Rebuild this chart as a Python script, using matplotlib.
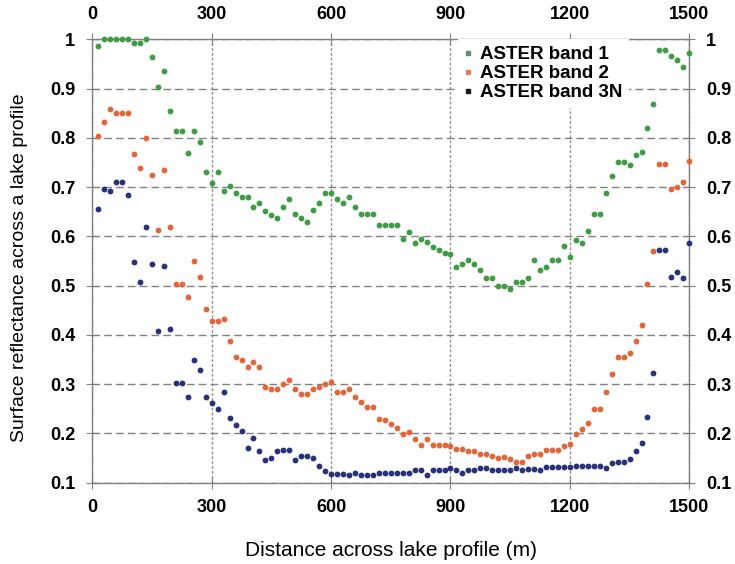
import matplotlib
matplotlib.use('Agg')
import matplotlib.pyplot as plt
from matplotlib.lines import Line2D

plt.rcParams['font.family'] = ['Liberation Sans', 'DejaVu Sans']
plt.rcParams['font.weight'] = 'bold'

# ASTER pixels every 15 m along the profile
distance = list(range(15, 1501, 15))

band1 = [0.987, 1.0, 1.0, 1.0, 1.0, 1.0, 0.992, 0.992, 1.0, 0.965,
         0.903, 0.936, 0.854, 0.814, 0.814, 0.770, 0.814, 0.792, 0.730, 0.708,
         0.730, 0.693, 0.703, 0.688, 0.681, 0.681, 0.659, 0.668, 0.651, 0.644,
         0.637, 0.659, 0.675, 0.646, 0.637, 0.630, 0.653, 0.668, 0.688, 0.688,
         0.675, 0.668, 0.681, 0.659, 0.646, 0.646, 0.646, 0.624, 0.624, 0.624,
         0.624, 0.594, 0.609, 0.586, 0.595, 0.588, 0.579, 0.573, 0.567, 0.565,
         0.537, 0.544, 0.551, 0.544, 0.531, 0.516, 0.516, 0.500, 0.500, 0.493,
         0.508, 0.508, 0.516, 0.551, 0.531, 0.537, 0.551, 0.551, 0.580, 0.558,
         0.593, 0.587, 0.610, 0.645, 0.645, 0.688, 0.723, 0.751, 0.751, 0.744,
         0.765, 0.771, 0.820, 0.869, 0.979, 0.979, 0.966, 0.958, 0.945, 0.973]

band2 = [0.803, 0.832, 0.859, 0.851, 0.851, 0.851, 0.767, 0.739, 0.799, 0.725,
         0.613, 0.734, 0.619, 0.503, 0.503, 0.476, 0.549, 0.517, 0.453, 0.428,
         0.428, 0.433, 0.388, 0.355, 0.349, 0.335, 0.344, 0.335, 0.294, 0.290,
         0.290, 0.300, 0.309, 0.290, 0.279, 0.279, 0.290, 0.294, 0.300, 0.304,
         0.284, 0.284, 0.290, 0.274, 0.264, 0.254, 0.254, 0.230, 0.226, 0.218,
         0.211, 0.199, 0.203, 0.188, 0.177, 0.188, 0.177, 0.177, 0.177, 0.174,
         0.169, 0.169, 0.164, 0.164, 0.158, 0.158, 0.154, 0.149, 0.152, 0.147,
         0.142, 0.142, 0.154, 0.158, 0.158, 0.167, 0.167, 0.167, 0.174, 0.179,
         0.199, 0.209, 0.220, 0.249, 0.249, 0.284, 0.320, 0.354, 0.354, 0.364,
         0.388, 0.419, 0.503, 0.571, 0.748, 0.748, 0.696, 0.700, 0.710, 0.753]

band3n = [0.656, 0.697, 0.693, 0.710, 0.710, 0.685, 0.547, 0.507, 0.619, 0.544,
          0.408, 0.539, 0.412, 0.303, 0.303, 0.274, 0.349, 0.328, 0.274, 0.262,
          0.249, 0.283, 0.232, 0.216, 0.205, 0.171, 0.191, 0.163, 0.145, 0.149,
          0.163, 0.167, 0.167, 0.145, 0.154, 0.154, 0.149, 0.133, 0.123, 0.118,
          0.118, 0.118, 0.116, 0.120, 0.116, 0.116, 0.116, 0.120, 0.120, 0.120,
          0.120, 0.120, 0.120, 0.125, 0.125, 0.115, 0.125, 0.125, 0.125, 0.130,
          0.125, 0.120, 0.125, 0.125, 0.130, 0.130, 0.125, 0.125, 0.125, 0.125,
          0.130, 0.125, 0.127, 0.128, 0.125, 0.131, 0.131, 0.131, 0.131, 0.131,
          0.133, 0.133, 0.133, 0.133, 0.133, 0.130, 0.139, 0.142, 0.142, 0.147,
          0.164, 0.180, 0.233, 0.323, 0.573, 0.573, 0.518, 0.528, 0.515, 0.586]

labels = ['ASTER band 1', 'ASTER band 2', 'ASTER band 3N']
colors = ['#3f9b45', '#e0663c', '#28327c']
legend_colors = ['#5f8f6f', '#e08060', '#1a1a1a']

fig = plt.figure(figsize=(7.35, 5.64), dpi=100)
ax = fig.add_axes([0.1256, 0.1445, 0.8122, 0.7855])

for values, color in zip([band1, band2, band3n], colors):
    ax.plot(distance, values, 'o', color=color, markersize=4.2,
            markeredgewidth=0, clip_on=False, zorder=3)

ax.set_xlim(0, 1500)
ax.set_ylim(0.1, 1.0)
ax.set_xticks([0, 300, 600, 900, 1200, 1500])
ax.set_yticks([0.1, 0.2, 0.3, 0.4, 0.5, 0.6, 0.7, 0.8, 0.9, 1.0])
ax.set_yticklabels(['0.1', '0.2', '0.3', '0.4', '0.5', '0.6', '0.7', '0.8', '0.9', '1'])

ax.yaxis.grid(True, linestyle=(0, (5.5, 3)), color='#808080', linewidth=1)
ax.xaxis.grid(True, linestyle=(0, (2, 1.5)), color='#909090', linewidth=1)
ax.set_axisbelow(True)

for spine in ax.spines.values():
    spine.set_color('#808080')
    spine.set_linewidth(1)

ax.tick_params(axis='both', direction='inout', length=9, color='#808080',
               labelsize=13, top=True, right=True, labeltop=True, labelright=True)
ax.tick_params(axis='x', pad=7.5)
ax.tick_params(axis='y', pad=7.7)

handles = [Line2D([], [], marker='s', linestyle='none', markersize=3.5,
                  color=c) for c in legend_colors]
ax.legend(handles, labels, loc='upper left', bbox_to_anchor=(0.6125, 1.0),
          borderaxespad=0, borderpad=0.35, frameon=True, framealpha=1,
          edgecolor='none', fancybox=False, handlelength=0.4,
          handletextpad=0.45, labelspacing=0.1,
          prop={'weight': 'bold', 'size': 13.5})

fig.text(20 / 735, 1 - 268 / 564, 'Surface reflectance across a lake profile',
         rotation=90, ha='center', va='center', fontsize=14, fontweight='normal')
fig.text(391 / 735, 1 - 550 / 564, 'Distance across lake profile (m)',
         ha='center', va='center', fontsize=15, fontweight='normal')

fig.savefig('out.png', dpi=100)
